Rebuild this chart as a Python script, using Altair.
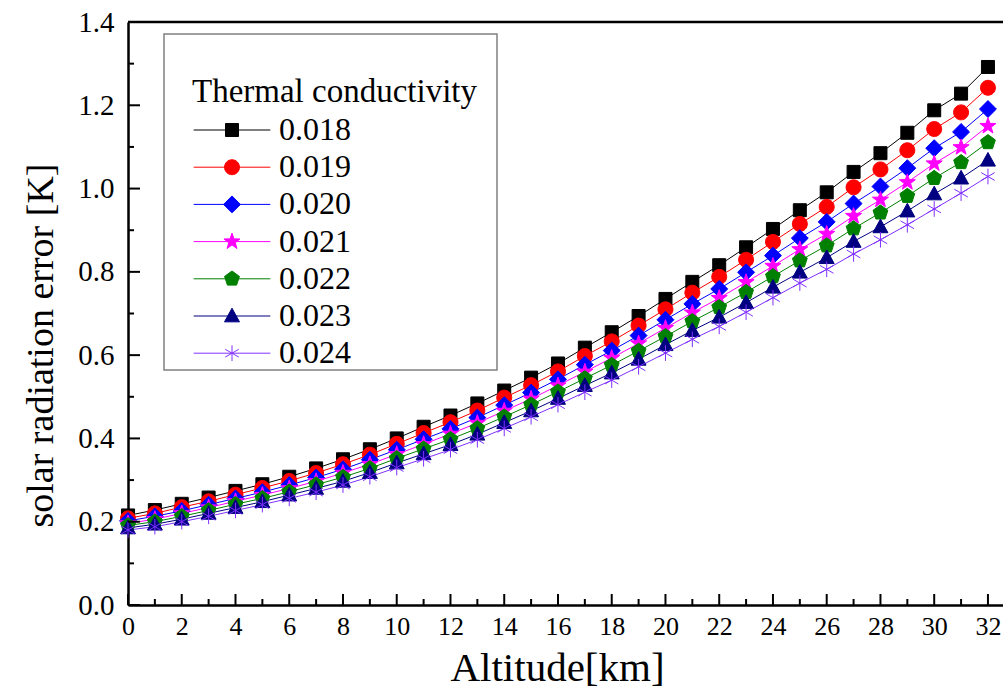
import altair as alt
import pandas as pd

# ---------------- data ----------------
altitude = list(range(33))
series_names = ["0.018", "0.019", "0.020", "0.021", "0.022", "0.023", "0.024"]

k018 = [0.215, 0.228, 0.243, 0.258, 0.274, 0.290, 0.308, 0.328, 0.350, 0.374, 0.400,
        0.428, 0.455, 0.484, 0.515, 0.546, 0.580, 0.618, 0.655, 0.694, 0.735, 0.776,
        0.816, 0.859, 0.903, 0.948, 0.991, 1.040, 1.085, 1.134, 1.188, 1.228, 1.292]
k019 = [0.208, 0.220, 0.235, 0.249, 0.265, 0.281, 0.298, 0.317, 0.338, 0.361, 0.387,
        0.413, 0.439, 0.467, 0.498, 0.528, 0.561, 0.598, 0.633, 0.671, 0.710, 0.750,
        0.788, 0.829, 0.872, 0.915, 0.956, 1.003, 1.046, 1.092, 1.143, 1.183, 1.242]
k020 = [0.202, 0.213, 0.226, 0.241, 0.256, 0.271, 0.288, 0.306, 0.326, 0.349, 0.373,
        0.398, 0.423, 0.450, 0.480, 0.510, 0.542, 0.577, 0.611, 0.647, 0.685, 0.723,
        0.759, 0.799, 0.839, 0.881, 0.920, 0.964, 1.005, 1.049, 1.097, 1.136, 1.191]
k021 = [0.196, 0.206, 0.220, 0.234, 0.249, 0.264, 0.280, 0.297, 0.317, 0.338, 0.362,
        0.386, 0.411, 0.437, 0.466, 0.495, 0.527, 0.560, 0.593, 0.628, 0.665, 0.702,
        0.737, 0.775, 0.814, 0.854, 0.891, 0.934, 0.973, 1.015, 1.060, 1.099, 1.150]
k022 = [0.191, 0.200, 0.213, 0.227, 0.242, 0.256, 0.272, 0.289, 0.307, 0.328, 0.352,
        0.375, 0.398, 0.424, 0.452, 0.481, 0.512, 0.544, 0.576, 0.610, 0.645, 0.681,
        0.715, 0.751, 0.789, 0.827, 0.863, 0.904, 0.942, 0.982, 1.025, 1.063, 1.111]
k023 = [0.185, 0.194, 0.206, 0.220, 0.234, 0.248, 0.264, 0.280, 0.297, 0.318, 0.341,
        0.363, 0.385, 0.410, 0.438, 0.466, 0.496, 0.527, 0.557, 0.590, 0.625, 0.659,
        0.691, 0.726, 0.763, 0.799, 0.834, 0.873, 0.908, 0.946, 0.987, 1.025, 1.068]
k024 = [0.180, 0.188, 0.200, 0.213, 0.227, 0.241, 0.256, 0.271, 0.288, 0.308, 0.330,
        0.351, 0.373, 0.397, 0.424, 0.452, 0.481, 0.511, 0.540, 0.572, 0.605, 0.638,
        0.669, 0.703, 0.738, 0.773, 0.806, 0.843, 0.877, 0.913, 0.951, 0.989, 1.029]

x_major = list(range(0, 33, 2))
x_minor = list(range(1, 33, 2))
y_major = [0.0, 0.2, 0.4, 0.6, 0.8, 1.0, 1.2, 1.4]
y_minor = [0.1, 0.3, 0.5, 0.7, 0.9, 1.1, 1.3]
y_top = [1.4]

# ---------------- styles ----------------
colors = ["#000000", "#FF0000", "#0000FF", "#FF00FF", "#008000", "#000080", "#8030FF"]
shape_square = "M-1,-1H1V1H-1Z"
shape_circle = "M1.15,0A1.15,1.15,0,1,1,-1.15,0A1.15,1.15,0,1,1,1.15,0Z"
shape_diamond = "M0,-1.3L1.3,0L0,1.3L-1.3,0Z"
shape_star = ("M0,-1.3L0.306,-0.421L1.236,-0.402L0.495,0.161L0.764,1.052L0,0.52"
              "L-0.764,1.052L-0.495,0.161L-1.236,-0.402L-0.306,-0.421Z")
shape_pentagon = "M0,-1.2L1.141,-0.371L0.705,0.971L-0.705,0.971L-1.141,-0.371Z"
shape_triangle = "M0,-1.2L1.15,0.9L-1.15,0.9Z"
shape_asterisk = "M0,-1.2V1.2M-1.04,-0.6L1.04,0.6M-1.04,0.6L1.04,-0.6"
shapes = [shape_square, shape_circle, shape_diamond, shape_star,
          shape_pentagon, shape_triangle, shape_asterisk]

FONT = "Liberation Serif"
X_MAX = 32.56
MSIZE = 169  # marker area -> 13 px square

series_values = [k018, k019, k020, k021, k022, k023, k024]
line_keys = ["L" + s for s in series_names]   # separate key so the line legend stays separate
rows = []
for name, lkey, vals in zip(series_names, line_keys, series_values):
    for a, v in zip(altitude, vals):
        rows.append({"altitude": a, "error": v, "series": name, "lkey": lkey})
df = pd.DataFrame(rows)

xscale = alt.Scale(domain=[0, X_MAX], nice=False, zero=False)
yscale = alt.Scale(domain=[0, 1.4], nice=False)

leg_common = dict(
    orient="none", legendX=64, legendY=54,
    titleFont=FONT, titleFontSize=33, titleFontWeight="normal", titleColor="black",
    titleLimit=1000, labelLimit=1000,
    labelFont=FONT, labelFontSize=32, labelColor="black",
    symbolSize=MSIZE, symbolStrokeWidth=1, symbolOffset=24, labelOffset=31,
    rowPadding=5.2, padding=0, titlePadding=5,
)

legend_lines = alt.Legend(title=" ", symbolType="M-5.9,0H5.9", labelExpr="' '",
                          labelOpacity=0, titleOpacity=0, **leg_common)
legend_pts = alt.Legend(title="Thermal conductivity", **leg_common)

x_enc = alt.X("altitude:Q", scale=xscale,
              axis=alt.Axis(values=x_major, title="Altitude[km]", format="d"))
y_enc = alt.Y("error:Q", scale=yscale,
              axis=alt.Axis(values=y_major, title="solar radiation error [K]", format=".1f"))

lines = alt.Chart(df).mark_line(strokeWidth=1).encode(
    x=x_enc, y=y_enc,
    color=alt.Color("lkey:N", scale=alt.Scale(domain=line_keys, range=colors),
                    legend=legend_lines),
)

points = alt.Chart(df).mark_point(filled=True, size=MSIZE, strokeWidth=1, opacity=1).encode(
    x=x_enc, y=y_enc,
    fill=alt.Fill("series:N", scale=alt.Scale(domain=series_names, range=colors),
                  legend=legend_pts),
    stroke=alt.Stroke("series:N", scale=alt.Scale(domain=series_names, range=colors),
                      legend=legend_pts),
    shape=alt.Shape("series:N", scale=alt.Scale(domain=series_names, range=shapes),
                    legend=legend_pts),
)

xt_major = alt.Chart(pd.DataFrame({"t": x_major})).mark_rule(color="black", strokeWidth=2).encode(
    x=alt.X("t:Q", scale=xscale), y=alt.value(583), y2=alt.value(572))
xt_minor = alt.Chart(pd.DataFrame({"t": x_minor})).mark_rule(color="black", strokeWidth=2).encode(
    x=alt.X("t:Q", scale=xscale), y=alt.value(583), y2=alt.value(577))
yt_major = alt.Chart(pd.DataFrame({"t": y_major})).mark_rule(color="black", strokeWidth=2).encode(
    y=alt.Y("t:Q", scale=yscale), x=alt.value(0), x2=alt.value(12))
yt_minor = alt.Chart(pd.DataFrame({"t": y_minor})).mark_rule(color="black", strokeWidth=2).encode(
    y=alt.Y("t:Q", scale=yscale), x=alt.value(0), x2=alt.value(6))
top_line = alt.Chart(pd.DataFrame({"t": y_top})).mark_rule(color="black", strokeWidth=2.5).encode(
    y=alt.Y("t:Q", scale=yscale), x=alt.value(0), x2=alt.value(875))

# legend frame (decoration)
legend_box = alt.Chart(pd.DataFrame({"t": [0]})).mark_rect(
    fill="white", fillOpacity=0, stroke="#808080", strokeWidth=1.5
).encode(x=alt.value(36), x2=alt.value(369), y=alt.value(12), y2=alt.value(348))

chart = alt.layer(
    legend_box, lines, points, xt_major, xt_minor, yt_major, yt_minor, top_line
).properties(
    width=875, height=583,
    autosize=alt.AutoSizeParams(type="none"),
    padding={"left": 128, "top": 22, "right": 0, "bottom": 84},
    background="white",
).configure_view(
    stroke=None
).configure_axis(
    domainColor="black", domainWidth=2.5, ticks=False, tickSize=0, grid=False,
    labelFont=FONT, labelColor="black", titleFont=FONT, titleColor="black",
    titleFontWeight="normal", labelOverlap=False, labelFlush=False,
).configure_axisX(
    labelFontSize=26, labelPadding=8, titleFontSize=41,
    titleX=429, titleY=75, titleBaseline="alphabetic",
).configure_axisY(
    labelFontSize=29, labelPadding=14, titleFontSize=38,
    titleX=-76, titleY=323, titleBaseline="alphabetic",
)

chart.save("out.html", embed_options={"renderer": "svg", "actions": False})
